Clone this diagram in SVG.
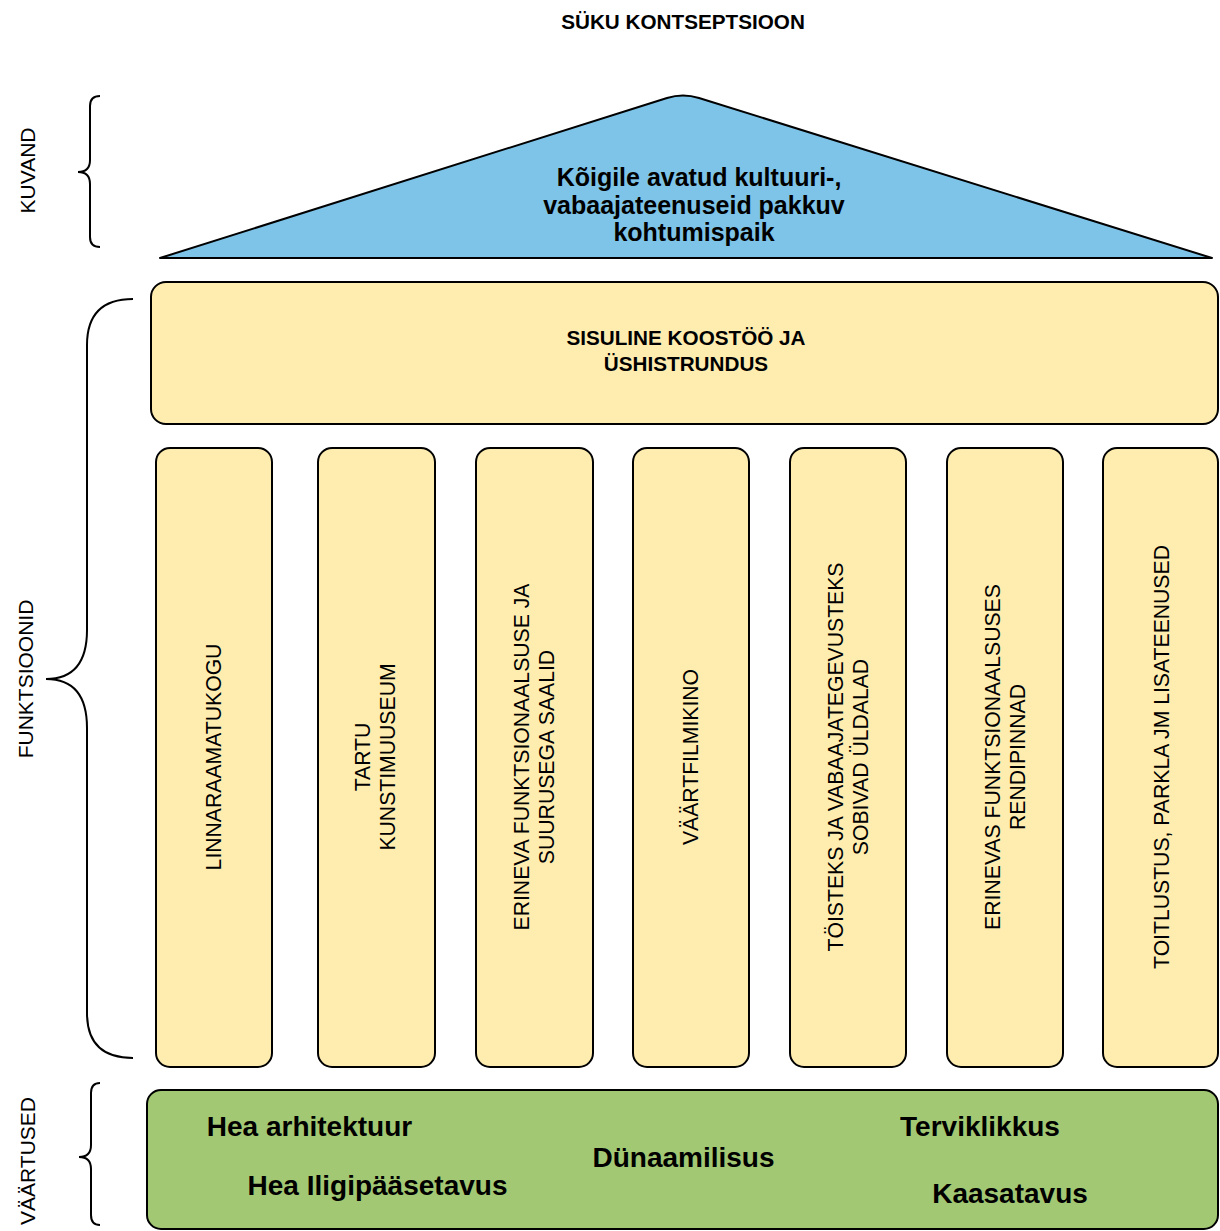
<svg xmlns="http://www.w3.org/2000/svg" width="1220" height="1231" viewBox="0 0 1220 1231">
<style>
text{font-family:"Liberation Sans",Arial,sans-serif;fill:#000}
.b{font-weight:bold}
.lbl{font-size:21px}
.col{fill:#FFEDB0;stroke:#000;stroke-width:2}
.coltxt{font-size:21.2px;text-anchor:middle}
.brace{fill:none;stroke:#000;stroke-width:2}
.g{font-size:28px;font-weight:bold;text-anchor:middle}
</style>
<rect width="1220" height="1231" fill="#fff"/>
<text x="683" y="29" class="b" font-size="20.7" text-anchor="middle">SÜKU KONTSEPTSIOON</text>

<g id="braces">
<path class="brace" d="M100,96 Q90,96 90,106 L90,160 Q90,172 78,172 Q90,172 90,184 L90,237 Q90,247 100,247"/>
<path class="brace" d="M133,299 Q87,299 87,345 L87,630 Q87,679 46,679 Q87,679 87,728 L87,1013 Q87,1058 133,1058"/>
<path class="brace" d="M100,1083 Q91,1083 91,1093 L91,1145 Q91,1157 79,1157 Q91,1157 91,1169 L91,1215 Q91,1225 100,1225"/>
</g>
<g id="labels">
<text class="lbl" transform="translate(35,170.5) rotate(-90)" text-anchor="middle">KUVAND</text>
<text class="lbl" transform="translate(33,679) rotate(-90)" text-anchor="middle">FUNKTSIOONID</text>
<text class="lbl" transform="translate(35,1161) rotate(-90)" text-anchor="middle">VÄÄRTUSED</text>
</g>

<g id="roof">
<path d="M160,258 L667,98 Q683,93 699,98 L1212,258 Z" fill="#7EC4E8" stroke="#000" stroke-width="2" stroke-linejoin="round"/>
<text class="b" font-size="25" text-anchor="middle"><tspan x="699" y="186">Kõigile avatud kultuuri-,</tspan><tspan x="694" y="213.5">vabaajateenuseid pakkuv</tspan><tspan x="694" y="241">kohtumispaik</tspan></text>
</g>

<g id="banner">
<rect x="151" y="282" width="1067" height="142" rx="15" fill="#FFEDB0" stroke="#000" stroke-width="2"/>
<text class="b" font-size="20.7" text-anchor="middle"><tspan x="686" y="345">SISULINE KOOSTÖÖ JA</tspan><tspan x="686" y="371">ÜSHISTRUNDUS</tspan></text>
</g>

<g id="col1">
<rect class="col" x="156" y="448" width="116" height="619" rx="14"/>
<text class="coltxt" transform="translate(221,757) rotate(-90)">LINNARAAMATUKOGU</text>
</g>
<g id="col2">
<rect class="col" x="318" y="448" width="117" height="619" rx="14"/>
<text class="coltxt" transform="translate(370,757) rotate(-90)">TARTU</text>
<text class="coltxt" transform="translate(395,757) rotate(-90)">KUNSTIMUUSEUM</text>
</g>
<g id="col3">
<rect class="col" x="476" y="448" width="117" height="619" rx="14"/>
<text class="coltxt" transform="translate(529,757) rotate(-90)">ERINEVA FUNKTSIONAALSUSE JA</text>
<text class="coltxt" transform="translate(554,757) rotate(-90)">SUURUSEGA SAALID</text>
</g>
<g id="col4">
<rect class="col" x="633" y="448" width="116" height="619" rx="14"/>
<text class="coltxt" transform="translate(698,757) rotate(-90)">VÄÄRTFILMIKINO</text>
</g>
<g id="col5">
<rect class="col" x="790" y="448" width="116" height="619" rx="14"/>
<text class="coltxt" transform="translate(843,757) rotate(-90)">TÖISTEKS JA VABAAJATEGEVUSTEKS</text>
<text class="coltxt" transform="translate(868,757) rotate(-90)">SOBIVAD ÜLDALAD</text>
</g>
<g id="col6">
<rect class="col" x="947" y="448" width="116" height="619" rx="14"/>
<text class="coltxt" transform="translate(1000,757) rotate(-90)">ERINEVAS FUNKTSIONAALSUSES</text>
<text class="coltxt" transform="translate(1025,757) rotate(-90)">RENDIPINNAD</text>
</g>
<g id="col7">
<rect class="col" x="1103" y="448" width="115" height="619" rx="14"/>
<text class="coltxt" transform="translate(1169,757) rotate(-90)">TOITLUSTUS, PARKLA JM LISATEENUSED</text>
</g>

<g id="values">
<rect x="147" y="1090" width="1071" height="139" rx="14" fill="#A3C873" stroke="#000" stroke-width="2"/>
<text class="g" x="309.5" y="1136">Hea arhitektuur</text>
<text class="g" x="377.5" y="1195">Hea Iligipääsetavus</text>
<text class="g" x="683.5" y="1167">Dünaamilisus</text>
<text class="g" x="980" y="1136">Terviklikkus</text>
<text class="g" x="1010" y="1203">Kaasatavus</text>
</g>
<g id="connectors"></g>
</svg>
